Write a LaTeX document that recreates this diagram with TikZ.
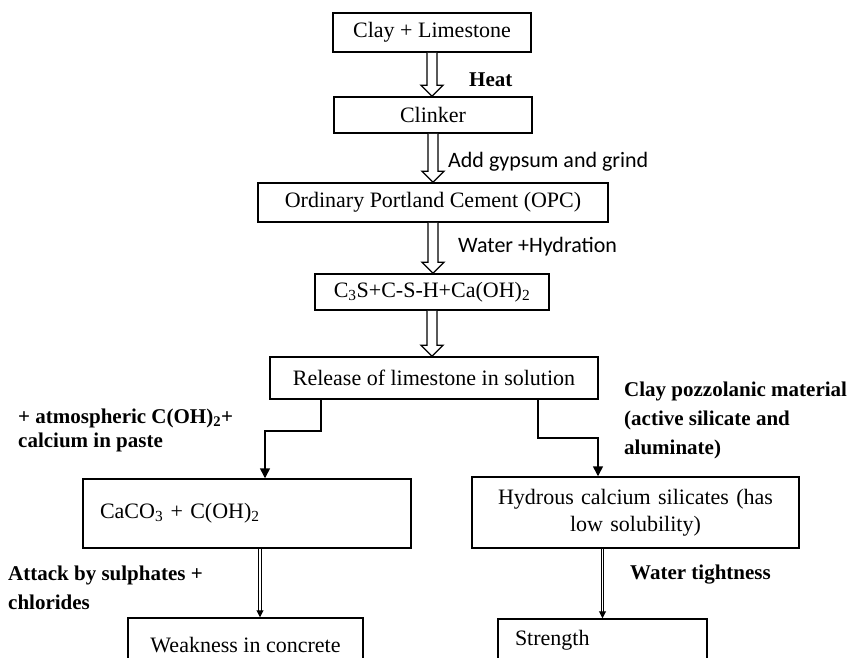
\documentclass[tikz,border=0pt]{standalone}
\usepackage{fontspec}
\setmainfont{Liberation Serif}
\newfontfamily\calfont{Carlito}
\usetikzlibrary{arrows.meta,calc}
\tikzstyle{box}=[draw, line width=1.5pt, inner sep=0pt, font=\fontsize{22}{27}\selectfont]
\tikzstyle{note}=[anchor=west, inner sep=0pt, align=left, font=\bfseries\fontsize{21}{29}\selectfont]
\tikzstyle{sidenote}=[anchor=west, inner sep=0pt, font=\calfont\fontsize{22}{26}\selectfont]
\tikzstyle{dbl}=[double, double distance=1.8pt, line width=1pt, -{Triangle[length=7pt,width=7pt]}]

% hollow block arrow from the bottom of #1 to the top of #2
\newcommand{\blockarrow}[2]{%
  \draw[line width=1.3pt, fill=white] let \p1=(#1.south), \p2=(#2.north) in
    (\x1-5pt,\y1) -- (\x1-5pt,\y2+11pt) -- (\x1-11pt,\y2+11pt) -- (\x1,\y2)
    -- (\x1+11pt,\y2+11pt) -- (\x1+5pt,\y2+11pt) -- (\x1+5pt,\y1);}

\begin{document}
\begin{tikzpicture}[x=1pt,y=-1pt,>={Triangle[length=10pt,width=10pt]}]
\clip (0,0) rectangle (851,657);

\node[box, minimum width=198, minimum height=39] (clay) at (432,32.5) {Clay + Limestone};
\node[box, minimum width=198, minimum height=36] (clinker) at (433,115) {Clinker};
\node[box, minimum width=350, minimum height=39] (opc) at (433,202.5) {Ordinary Portland Cement (OPC)};
\node[box, minimum width=234, minimum height=36] (c3s) at (432,292) {C\textsubscript{3}S+C-S-H+Ca(OH)\textsubscript{2}};
\node[box, minimum width=328, minimum height=42] (release) at (434,378) {Release of limestone in solution};
\node[box, minimum width=328, minimum height=69, inner xsep=17pt, text width=294pt, align=left]
    (caco3) at (247,513.5) {CaCO\textsubscript{3} + C(OH)\textsubscript{2}};
\node[box, minimum width=327, minimum height=71, text width=310pt, align=center]
    (hydrous) at (635.5,512.5) {Hydrous calcium silicates (has\\low solubility)};
\node[box, minimum width=235, minimum height=54] (weak) at (245.5,645) {Weakness in concrete};
\node[box, minimum width=209, minimum height=42, inner xsep=17pt, text width=175pt, align=left]
    (strength) at (602.5,640) {Strength};

\blockarrow{clay}{clinker}
\blockarrow{clinker}{opc}
\blockarrow{opc}{c3s}
\blockarrow{c3s}{release}

\draw[->, line width=1.5pt] ([xshift=-113pt]release.south) -- ++(0,31) -| ([xshift=18pt]caco3.north);
\draw[->, line width=1.5pt] ([xshift=104pt]release.south) -- ++(0,38) -| ([xshift=-37.5pt]hydrous.north);
\draw[dbl] ([xshift=13pt]caco3.south) -- ([xshift=13pt]caco3.south |- weak.north);
\draw[dbl] (hydrous.south -| strength.north) -- (strength.north);

\node[note] (heat) at (469,80) {Heat};
\node[sidenote] (gypsum) at (448,162) {Add gypsum and grind};
\node[sidenote] (water) at (458,247) {Water +Hydration};
\node[note] (atmos) at (18,430) {+ atmospheric C(OH)\textsubscript{2}+\\[-5pt]calcium in paste};
\node[note] (pozz) at (624,420) {Clay pozzolanic material\\(active silicate and\\aluminate)};
\node[note] (attack) at (8,588) {Attack by sulphates +\\chlorides};
\node[note] (tight) at (630,575) {Water tightness};
\end{tikzpicture}
\end{document}
